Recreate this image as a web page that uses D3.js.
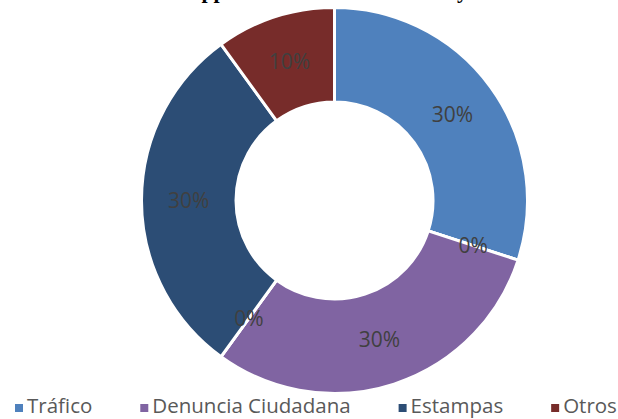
<!DOCTYPE html>
<html>
<head>
<meta charset="utf-8">
<script src="https://cdn.jsdelivr.net/npm/d3@7"></script>
<style>
  body { margin: 0; background: #fff; }
  svg { display: block; }
</style>
</head>
<body>
<div id="chart"></div>
<script>
const width = 618;
const height = 419;

// data (two unnamed zero-valued categories sit between slices)
const categories = ["Tráfico", "", "Denuncia Ciudadana", "", "Estampas", "Otros"];
const values = [3, 0, 3, 0, 3, 1];
const colors = ["#4f81bd", "#4f81bd", "#8064a2", "#8064a2", "#2c4d75", "#772c2a"];
const title = "The Apprehensions Data Summary";

const cx = 334.5, cy = 200.5;
const outerR = 193, innerR = 98.5;

const svg = d3.select("#chart")
    .append("svg")
    .attr("width", width)
    .attr("height", height);

// title is mostly cut off at the top edge, only descenders show
svg.append("text")
    .attr("x", 146)
    .attr("y", -2)
    .attr("font-family", "Liberation Serif, Times New Roman, serif")
    .attr("font-weight", "bold")
    .attr("font-size", 22)
    .attr("textLength", 322)
    .attr("fill", "#000")
    .text(title);

const data = categories.map((c, i) => ({ name: c, value: values[i], color: colors[i] }));
const total = d3.sum(values);

const pie = d3.pie()
    .sort(null)
    .value(d => d.value);

const arc = d3.arc()
    .innerRadius(innerR)
    .outerRadius(outerR);

const g = svg.append("g")
    .attr("transform", `translate(${cx}, ${cy})`);

const arcs = pie(data);

g.selectAll("path")
    .data(arcs)
    .enter()
    .append("path")
    .attr("d", arc)
    .attr("fill", d => d.data.color)
    .attr("stroke", "#fff")
    .attr("stroke-width", 3)
    .attr("stroke-linejoin", "miter");

const fmt = d3.format(".0%");

g.selectAll("text.label")
    .data(arcs)
    .enter()
    .append("text")
    .attr("class", "label")
    .attr("transform", d => `translate(${arc.centroid(d)})`)
    .attr("text-anchor", "middle")
    .attr("dy", "0.36em")
    .attr("font-family", "Open Sans, sans-serif")
    .attr("font-size", 21)
    .attr("fill", "#404040")
    .text(d => fmt(d.data.value / total));

// legend, only the named categories
const legendData = data.filter(d => d.name !== "");
const legend = svg.append("g").attr("transform", "translate(15, 413)");
const markerSize = 8;
const gapText = 4;
const gapItem = 48;
let xPos = 0;
legendData.forEach(d => {
    const item = legend.append("g").attr("transform", `translate(${xPos}, 0)`);
    item.append("rect")
        .attr("x", 0)
        .attr("y", -9)
        .attr("width", markerSize)
        .attr("height", markerSize)
        .attr("fill", d.color);
    const t = item.append("text")
        .attr("x", markerSize + gapText)
        .attr("y", 0)
        .attr("font-family", "Open Sans, sans-serif")
        .attr("font-size", 20.5)
        .attr("fill", "#595959")
        .text(d.name);
    xPos += markerSize + gapText + t.node().getComputedTextLength() + gapItem;
});
</script>
</body>
</html>
